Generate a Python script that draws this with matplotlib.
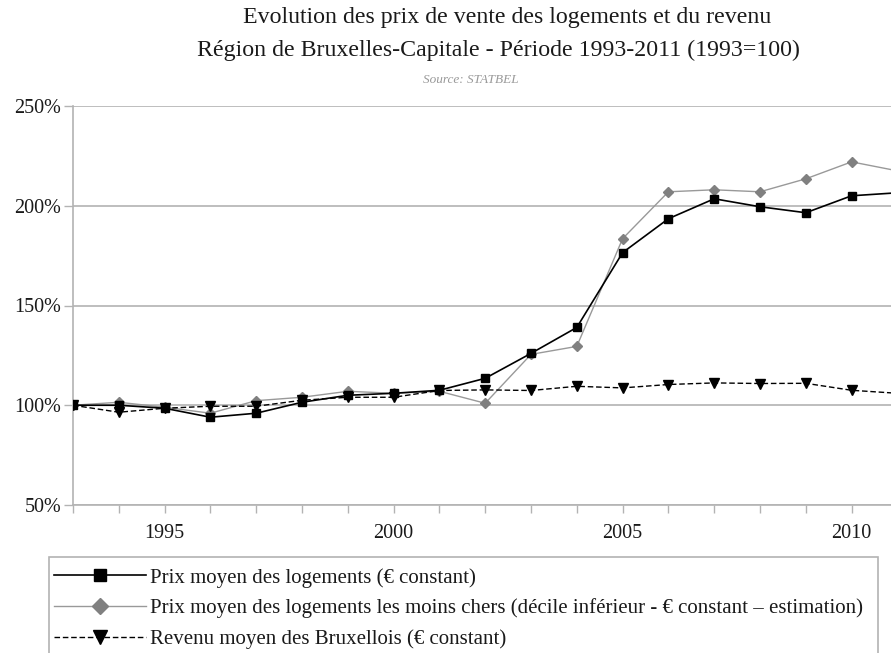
import numpy as np
import matplotlib.pyplot as plt
from matplotlib.patches import Rectangle
from matplotlib.ticker import FixedLocator, FuncFormatter

years = list(range(1993, 2012))
prix_moyen = [100, 100, 98.5, 94, 96, 101.5, 105, 106, 107.5, 113.5, 126, 139,
              176.5, 193.5, 203.5, 199.5, 196.5, 205, 206.5]
prix_moins_chers = [100, 101.5, 99, 96, 102.3, 104, 107, 106, 107, 101, 125.5,
                    129.5, 183.5, 207, 208, 207, 213.5, 222, 217.5]
revenu = [100, 96.5, 98.5, 99.5, 99.5, 102.5, 104, 104, 107.4, 107.7, 107.4,
          109.5, 108.7, 110.4, 111.2, 110.9, 111, 107.5, 106]

labels = ["Prix moyen des logements (€ constant)",
          "Prix moyen des logements les moins chers (décile inférieur - € constant – estimation)",
          "Revenu moyen des Bruxellois (€ constant)"]

W, H = 891, 653
SERIF = ["Liberation Serif", "DejaVu Serif"]


def main():
    plt.rcParams['font.family'] = SERIF
    fig = plt.figure(figsize=(W / 100, H / 100), dpi=100)

    # axes: 1993 at x=73px, 50% at y=505px, 250% at y=106px; right side cut off
    left, right, top, bottom = 73, 897.4, 106, 505
    ax = fig.add_axes([left / W, 1 - bottom / H, (right - left) / W, (bottom - top) / H])
    ax.set_xlim(1993, 2011)
    ax.set_ylim(50, 250)

    grid_c = "#b3b3b3"
    ax.yaxis.set_major_locator(FixedLocator([50, 100, 150, 200, 250]))
    ax.yaxis.set_major_formatter(FuncFormatter(lambda v, p: "%d%%" % v))
    ax.xaxis.set_major_locator(FixedLocator(years))
    ax.xaxis.set_major_formatter(FuncFormatter(lambda v, p: "%d" % v if int(v) % 5 == 0 else ""))
    ax.grid(axis='y', color=grid_c, linewidth=1.2)
    ax.set_axisbelow(True)
    for s in ['top', 'right']:
        ax.spines[s].set_visible(False)
    for s in ['left', 'bottom']:
        ax.spines[s].set_color(grid_c)
        ax.spines[s].set_linewidth(1.2)
    ax.tick_params(axis='x', length=6, width=1, color=grid_c, labelsize=14.5, pad=8,
                   labelcolor='#1a1a1a')
    ax.tick_params(axis='y', length=6.5, width=1, color=grid_c, labelsize=14.5, pad=2,
                   labelcolor='#1a1a1a')

    l1, = ax.plot(years, prix_moyen, color='black', linewidth=1.2, marker='s',
                  markersize=6, zorder=4)
    l2, = ax.plot(years, prix_moins_chers, color='#999999', linewidth=1.0, marker='D',
                  markersize=5.5, markerfacecolor='#808080', markeredgecolor='#808080', zorder=3)
    l3, = ax.plot(years, revenu, color='black', linewidth=1.0, linestyle=(0, (4, 2)),
                  marker='v', markersize=7, zorder=5)

    # titles
    fig.text(507 / W, 1 - 18 / H, "Evolution des prix de vente des logements et du revenu",
             ha='center', va='center', fontsize=17.2, color='#1a1a1a')
    fig.text(498 / W, 1 - 50 / H, "Région de Bruxelles-Capitale - Période 1993-2011 (1993=100)",
             ha='center', va='center', fontsize=17.2, color='#1a1a1a')
    fig.text(471 / W, 1 - 80 / H, "Source: STATBEL", ha='center', va='center',
             fontsize=9.5, style='italic', color='#999999')

    # legend frame
    fig.patches.append(Rectangle((49 / W, -0.05), (878 - 49) / W, 1 - 557 / H + 0.05,
                                 transform=fig.transFigure, facecolor='none',
                                 edgecolor=grid_c, linewidth=1.2))
    fig.legend([l1, l2, l3], labels, loc='upper left',
               bbox_to_anchor=(54 / W, 1 - 568 / H), frameon=False, fontsize=15,
               handlelength=4.4, handletextpad=0.2, labelspacing=0.52,
               markerscale=1.5, borderpad=0, borderaxespad=0, labelcolor='#1a1a1a')

    fig.savefig("out.png", dpi=100)


if __name__ == "__main__":
    main()
